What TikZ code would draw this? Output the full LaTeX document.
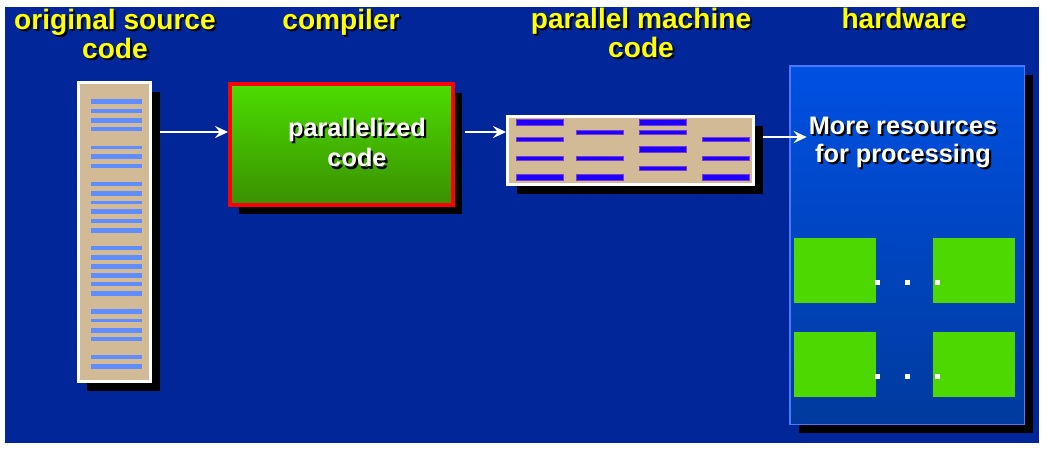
\documentclass[tikz,border=0pt]{standalone}
\usepackage{fontspec}
\setmainfont{Liberation Sans}
\usetikzlibrary{arrows.meta, positioning, fit, shadows}
\definecolor{slide-blue}{HTML}{002699}
\definecolor{paper-tan}{HTML}{D2BA96}
\definecolor{src-line}{HTML}{5F8CFF}
\definecolor{code-blue}{HTML}{1E00FF}
\definecolor{code-edge}{HTML}{7A3CD0}
\definecolor{gr-top}{HTML}{4CDC00}
\definecolor{gr-bot}{HTML}{3A9000}
\definecolor{hw-top}{HTML}{0050E2}
\definecolor{hw-bot}{HTML}{003A9E}
\definecolor{hw-edge}{HTML}{4A78FF}
\definecolor{pe-green}{HTML}{4CD800}
\definecolor{title-yellow}{HTML}{FFFF00}
\newcommand{\shadowed}[2]{\leavevmode\rlap{\hspace{1.2pt}\raisebox{-1.2pt}{\color{black}#2}}{\color{#1}#2}}
\newcommand{\tightlines}{\lineskiplimit=-20pt\relax}

\begin{document}
\begin{tikzpicture}[x=0.02cm, y=-0.02cm,
  title/.style={font=\bfseries\fontsize{16}{16.4}\selectfont\tightlines,
                align=center, inner sep=0pt, anchor=north},
  boxtext/.style={font=\bfseries\fontsize{14.4}{#1}\selectfont\tightlines,
                  align=center, inner sep=0pt, anchor=north},
  shade box/.style={drop shadow={shadow xshift=0.18cm, shadow yshift=-0.18cm,
                    opacity=1, fill=black}},
  listing/.style={shade box, rectangle, inner sep=0pt, draw=white,
                  line width=0.06cm, fill=paper-tan},
  compbox/.style={shade box, rectangle, inner sep=0pt, draw=red,
                  line width=0.08cm, top color=gr-top, bottom color=gr-bot},
  hwbox/.style={shade box, rectangle, inner sep=0pt, draw=hw-edge,
                line width=0.03cm, top color=hw-top, bottom color=hw-bot},
  srcline/.style={fill=src-line},
  codeline/.style={fill=code-blue, draw=code-edge, line width=0.3pt},
  pe/.style={fill=pe-green},
  flow/.style={-{Stealth[length=7.5pt, width=7pt, inset=2.8pt]}, white, line width=0.7pt}
]
  \useasboundingbox (0,0) rectangle (1047,451);
  \fill[white] (0,0) rectangle (1047,451);
  \fill[slide-blue] (5,7) rectangle (1039,443);

  % column titles
  \node[title] (t-src) at (115,9)
       {\shadowed{title-yellow}{original source}\\\shadowed{title-yellow}{code}};
  \node[title] (t-comp) at (341,9) {\shadowed{title-yellow}{compiler}};
  \node[title] (t-mach) at (641,8)
       {\shadowed{title-yellow}{parallel machine}\\\shadowed{title-yellow}{code}};
  \node[title] (t-hw) at (904,8) {\shadowed{title-yellow}{hardware}};

  % boxes
  \node[listing, fit={(78.5,82.5) (150.5,381.5)}] (src) {};
  \node[compbox, fit={(230,84) (453,205)}] (comp) {};
  \node[listing, fit={(507.5,116.5) (753.5,184.5)}] (mach) {};
  \node[hwbox, fit={(789.75,65.75) (1024.25,424.25)}] (hw) {};

  % source listing lines
  \foreach \y/\h in {101.7/5, 111/3.5, 120/5, 129/3.5, 147.7/3.5, 156.7/5, 166/3.5,
                     184/3.5, 193/5, 202.7/3.5, 211.7/5, 221/3.5, 230/5,
                     248/3.5, 257/5, 266.7/5, 275/5, 284/3.5, 293/5,
                     311.7/5, 320.7/3.5, 330/5, 339/3.5, 357/3.5, 366.7/5}
    \fill[srcline] (91,{\y-\h/2}) rectangle (142,{\y+\h/2});

  % parallel machine code lines
  \foreach \x/\y/\h in {516/122/6, 516/139/4, 516/158/4, 516/177/6,
                        576/132/4, 576/158/4, 576/177/6,
                        639/122/6, 639/132/4, 639/149/6, 639/168/4,
                        702/139/4, 702/158/4, 702/177/6}
    \filldraw[codeline] (\x,{\y-\h/2}) rectangle ({\x+47},{\y+\h/2});

  % processors
  \foreach \x in {794,933}
    \foreach \y in {238,332}
      \fill[pe] (\x,\y) rectangle ++(82,65);
  \foreach \x in {877,907,937}
    \foreach \y in {282,376}
      \fill[white] ({\x-2.5},{\y-2.5}) rectangle ++(5,5);

  \node[boxtext=17.2] (comp-text) at (357,118)
       {\shadowed{white}{parallelized}\\\shadowed{white}{code}};
  \node[boxtext=16] (hw-text) at (903,117)
       {\shadowed{white}{More resources}\\\shadowed{white}{for processing}};

  \coordinate (a1) at (160,132);
  \coordinate (a2) at (465,132);
  \coordinate (a3) at (763,137);
  \draw[flow] (a1) -- (a1 -| comp.west);
  \draw[flow] (a2) -- (a2 -| mach.west);
  \draw[flow] (a3) -- ([xshift=-1pt]a3 -| hw-text.west);

\end{tikzpicture}
\end{document}
